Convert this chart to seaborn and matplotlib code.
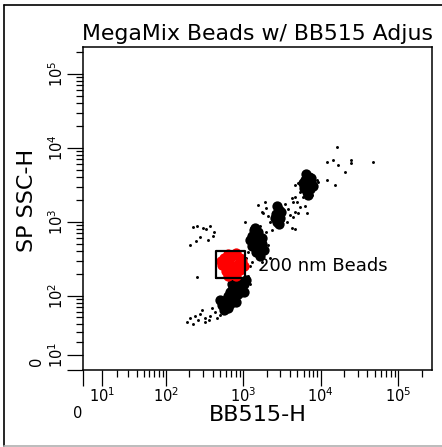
import numpy as np
import pandas as pd
import seaborn as sns
import matplotlib.pyplot as plt
from matplotlib.lines import Line2D

# dense parts of the bead populations (channel values)
core_x = [902, 1017, 801, 958, 712, 851, 633, 755, 596, 670, 801, 529, 633, 562, 902, 1080, 712, 1017, 498, 670,
          1409, 1542, 1290, 1542, 1452, 1738, 1290, 1542, 1843, 1452, 1214, 1634, 1738, 1370,
          2710, 2880, 2630, 2961, 2710, 3050, 2552, 2880,
          6410, 7010, 6224, 7450, 6600, 6050, 7220, 7910, 6600, 5880, 7450, 6800]
core_y = [154, 144, 136, 120, 120, 105, 99, 93, 87, 77, 82, 74, 67, 63, 128, 164, 144, 112, 87, 112,
          831, 733, 646, 608, 538, 505, 475, 446, 418, 394, 571, 347, 608, 780,
          1645, 1453, 1283, 1132, 1000, 1365, 1132, 940,
          4450, 4060, 3695, 3470, 3162, 2880, 2790, 3060, 2540, 3370, 3940, 2316]

# single scattered events
event_x = [429, 370, 319, 262, 223, 204, 275, 393, 187, 237, 319, 456, 498, 290, 360, 1146, 1214,
           223, 252, 301, 329, 370, 417, 275, 245, 349, 204, 405, 252,
           1047, 1146, 2080, 1738, 1080, 1290, 1956, 2200, 1214, 1542, 1738,
           1896, 1956, 1790, 2080, 2200, 3436, 3760, 3986, 4370, 4624, 5070, 4624, 4240, 4920, 5365, 6224,
           6600, 3240, 3650, 4240, 4624, 2340, 1634,
           4624, 5070, 8880, 9150, 11980, 15200, 11980, 14300, 16600, 20400, 24700, 24700, 16140, 46600,
           7680, 5365, 5880, 4370]
event_y = [59, 52, 49, 45, 40, 49, 56, 67, 42, 52, 42, 49, 54, 63, 45, 186, 144,
           857, 884, 831, 806, 884, 733, 626, 554, 571, 489, 646, 180,
           1000, 394, 489, 288, 326, 288, 733, 326, 254, 1697, 1365,
           1860, 1545, 1325, 1205, 1000, 1750, 1500, 1243, 1168, 1365, 1325, 2180, 2110, 1860, 1595, 1645,
           1325, 1064, 1000, 831, 806, 780, 884,
           3162, 3370, 3695, 3470, 3695, 3162, 6470, 6886, 5900, 4740, 6886, 6280, 10300, 6470,
           2316, 2540, 2180, 1860]

# gated 200 nm beads
red_x = [562, 712, 902, 529, 670, 851, 1017, 596, 755, 902, 633, 801, 513, 958, 712, 596, 801, 633]
red_y = [326, 347, 326, 262, 270, 270, 254, 217, 211, 224, 370, 382, 297, 297, 238, 254, 186, 186]

gate_x = [442, 1047, 1047, 442, 442]
gate_y = [175, 175, 406, 406, 175]
gate_name = "200 nm Beads"
gate_label_pos = (1540, 254)

major_ticks = [0, 10, 100, 1000, 10000, 100000]
major_labels = ["", r"$\mathregular{10^{1}}$", r"$\mathregular{10^{2}}$", r"$\mathregular{10^{3}}$",
                r"$\mathregular{10^{4}}$", r"$\mathregular{10^{5}}$"]
minor_ticks = [m * 10 ** k for k in range(1, 5) for m in range(2, 10)] + [200000]

sns.set_style("white")
plt.rcParams["font.family"] = ["DejaVu Sans"]
plt.rcParams["text.color"] = "black"
plt.rcParams["axes.labelcolor"] = "black"
plt.rcParams["xtick.color"] = "black"
plt.rcParams["ytick.color"] = "black"

W, H = 442, 447
fig = plt.figure(figsize=(W / 100, H / 100), dpi=100)
ax = fig.add_axes([83 / W, (H - 370) / H, (432 - 83) / W, (370 - 47) / H])


def biex(c):
    return (lambda v: np.arcsinh(np.asarray(v, dtype=float) / c),
            lambda u: c * np.sinh(np.asarray(u, dtype=float)))


ax.set_xscale("function", functions=biex(17.0))
ax.set_yscale("function", functions=biex(20.0))

sns.scatterplot(x=core_x, y=core_y, ax=ax, color="black", s=55, linewidth=0, legend=False)
sns.scatterplot(x=event_x, y=event_y, ax=ax, color="black", s=4.5, linewidth=0, legend=False)
sns.scatterplot(x=red_x, y=red_y, ax=ax, color="#ff0000", s=55, linewidth=0, legend=False)
ax.plot(gate_x, gate_y, color="black", lw=1.6)
ax.text(gate_label_pos[0], gate_label_pos[1], gate_name, fontsize=13, va="center", ha="left")

ax.set_xlim(0, 273000)
ax.set_ylim(0, 231000)

for axis in (ax.xaxis, ax.yaxis):
    axis.set_ticks(major_ticks)
    axis.set_ticklabels(major_labels)
    axis.set_ticks(minor_ticks, minor=True)

ax.tick_params(which="both", direction="out", color="black", width=0.9, bottom=True, left=True,
               top=False, right=False, labelcolor="black")
ax.tick_params(which="major", length=11.5, labelsize=10.5)
ax.tick_params(which="minor", length=5)
ax.tick_params(axis="x", pad=0.5)
ax.tick_params(axis="y", pad=1)
for lab in ax.get_yticklabels():
    lab.set_rotation(90)
    lab.set_va("center")
    lab.set_ha("right")

for sp in ax.spines.values():
    sp.set_color("black")
    sp.set_linewidth(1.1)

ax.set_xlabel("BB515-H", fontsize=16)
ax.xaxis.set_label_coords(0.5, -0.108)
ax.set_ylabel("SP SSC-H", fontsize=16)
ax.yaxis.set_label_coords(-0.132, 0.526)

# zero labels sit off the usual tick-label line
fig.text(78 / W, 1 - 413 / H, "0", fontsize=10.5, ha="center", va="center")
fig.text(37 / W, 1 - 361 / H, "0", fontsize=10.5, ha="center", va="center", rotation=90)

# title as it shows in the window (cut at the right edge there)
fig.text(82 / W, 1 - 40 / H, "MegaMix Beads w/ BB515 Adjus", fontsize=15.8, ha="left", va="baseline")

# window border
fig.add_artist(Line2D([4 / W, 4 / W], [1 - 5 / H, 1 - 446 / H], color="black", lw=1.2))
fig.add_artist(Line2D([4 / W, 1], [1 - 5 / H, 1 - 5 / H], color="black", lw=1.2))
fig.add_artist(Line2D([4 / W, 1], [1 - 446 / H, 1 - 446 / H], color="#b0b0b0", lw=1.2))

fig.savefig("out.png", dpi=100)
